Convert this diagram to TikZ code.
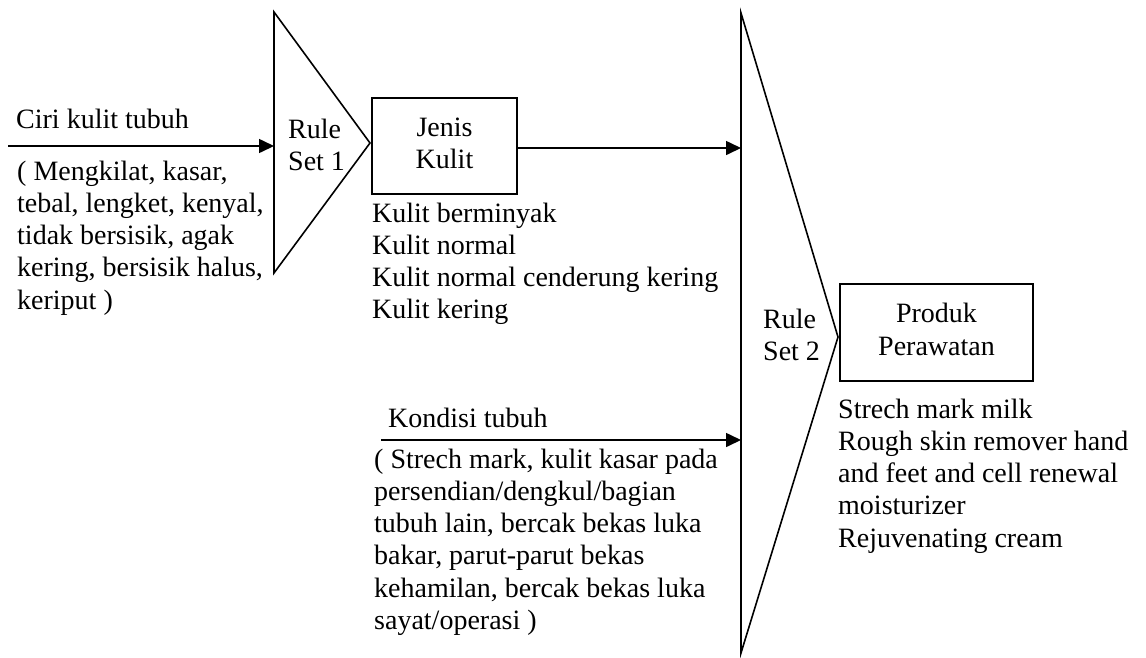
\documentclass[tikz,border=0pt]{standalone}
\usepackage{fontspec}
\setmainfont{Liberation Serif}
\usetikzlibrary{arrows.meta}
\begin{document}
\begin{tikzpicture}[x=1pt,y=-1pt,
  every node/.style={font=\fontsize{28}{32.2}\selectfont, inner sep=0pt},
  ln/.style={line width=1.6pt, line join=miter},
  flow/.style={ln, -{Triangle[length=15pt,width=14pt]}},
  box/.style={ln, draw, align=center},
  txt/.style={anchor=north west, align=left},
  lbl/.style={anchor=base west}]
\useasboundingbox (0,0) rectangle (1146,657);

% first rule set (triangle)
\coordinate (r1top) at (274,12);
\coordinate (r1tip) at (370,143);
\coordinate (r1bot) at (274,273);
\coordinate (r1in)  at (274,146);
\draw[ln] (r1top) -- (r1tip) -- (r1bot) -- cycle;
\node[txt] (r1lbl) at (288,115.5) {\strut Rule\\Set 1};

% second rule set (triangle)
\coordinate (r2top) at (741,13);
\coordinate (r2tip) at (838,337);
\coordinate (r2bot) at (741,653);
\coordinate (r2inA) at (741,148);
\coordinate (r2inB) at (741,440);
\draw[ln] (r2top) -- (r2tip) -- (r2bot) -- cycle;
\node[txt] (r2lbl) at (763,305.5) {\strut Rule\\Set 2};

% boxes
\node[box, minimum width=145pt, minimum height=96pt] (jenis) at (444.5,146)
  {\strut Jenis\\\strut Kulit};
\node[box, minimum width=193pt, minimum height=97pt] (produk) at (936.5,332.5)
  {\strut Produk\\\strut Perawatan};

% input: body skin features
\coordinate (inA) at (8,146);
\draw[flow] (inA) -- (r1in);
\node[lbl] (ciri) at (16,128) {Ciri kulit tubuh};
\node[txt] (ciriList) at (17,157.5) {\strut ( Mengkilat, kasar,\\tebal, lengket, kenyal,\\tidak bersisik, agak\\kering, bersisik halus,\\keriput )};

% skin type to second rule set
\draw[flow] (jenis.east |- r2inA) -- (r2inA);
\node[txt] (jenisList) at (372,199.5) {\strut Kulit berminyak\\Kulit normal\\Kulit normal cenderung kering\\Kulit kering};

% input: body condition
\coordinate (inB) at (381,440);
\draw[flow] (inB) -- (r2inB);
\node[lbl] (kondisi) at (388,427) {Kondisi tubuh};
\node[txt] (kondisiList) at (374,445.5) {\strut ( Strech mark, kulit kasar pada\\persendian/dengkul/bagian\\tubuh lain, bercak bekas luka\\bakar, parut-parut bekas\\kehamilan, bercak bekas luka\\sayat/operasi )};

% products
\node[txt] (produkList) at (838,395.5) {\strut Strech mark milk\\Rough skin remover hand\\and feet and cell renewal\\moisturizer\\Rejuvenating cream};
\end{tikzpicture}
\end{document}
